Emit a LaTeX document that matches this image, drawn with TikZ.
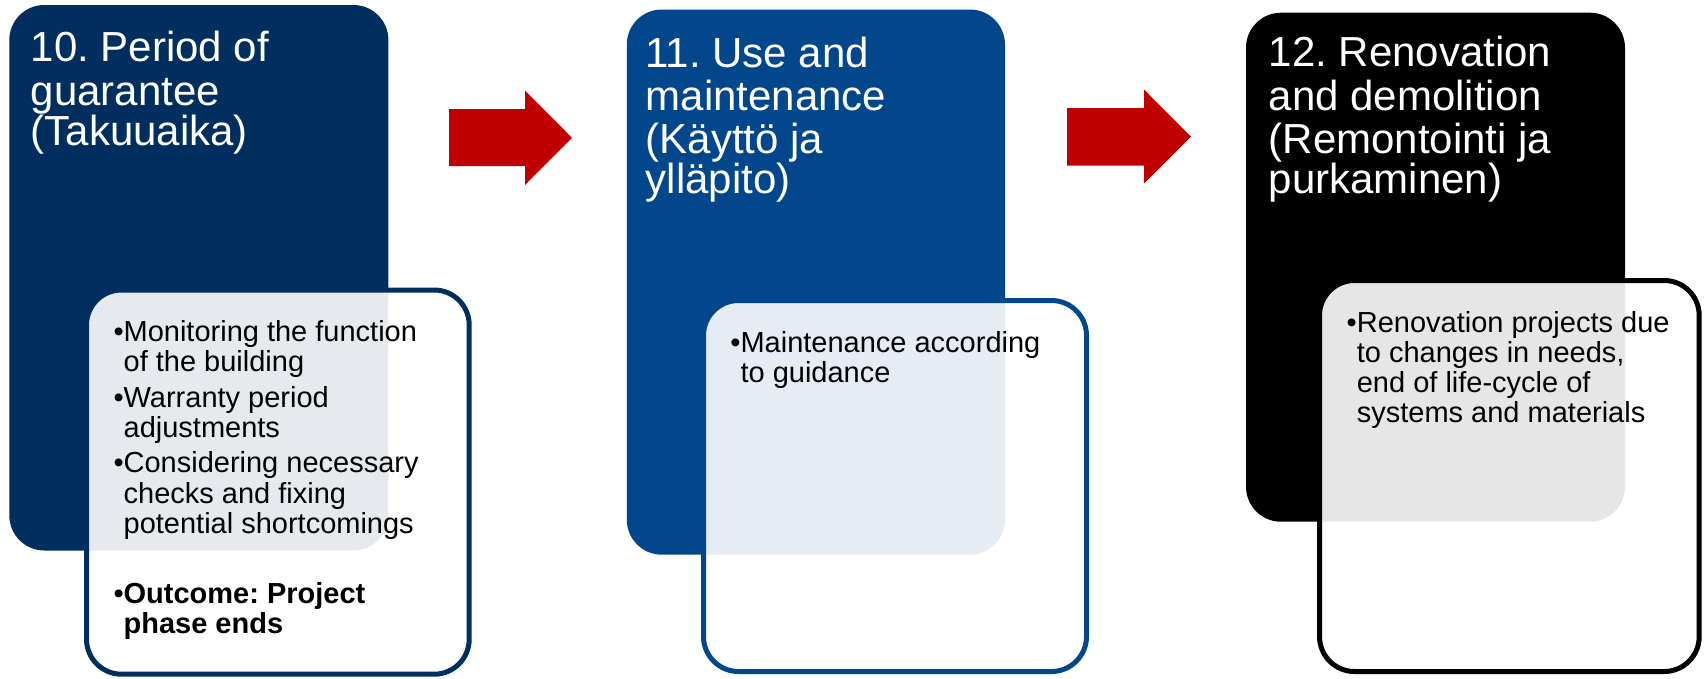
\documentclass[tikz,border=0pt]{standalone}
\usepackage{fontspec}
\setmainfont{Liberation Sans}
\definecolor{navyA}{RGB}{0,47,95}
\definecolor{blueB}{RGB}{2,71,139}
\definecolor{arrowred}{RGB}{192,0,0}
\newcommand\titlefont{\fontsize{42}{43.3}\selectfont\spaceskip=0pt\xspaceskip=0pt\frenchspacing}
\newcommand\bulfont{\fontsize{29}{30.3}\selectfont\spaceskip=0pt\xspaceskip=0pt\frenchspacing\setlength{\parskip}{5pt}}
\newcommand\bitem[1]{\hangindent=10.15pt\hangafter=1\noindent\makebox[10.15pt][l]{•}#1\par}
\tikzset{
  phase/.style={rectangle, rounded corners=35pt, inner sep=0pt, draw=none},
  detail/.style={rectangle, rounded corners=35pt, inner sep=0pt, line width=5pt, fill=white, fill opacity=0.9, draw opacity=1},
  titletext/.style={anchor=base west, inner sep=0pt, text width=360pt, align=left, text=white},
  bullettext/.style={anchor=base west, inner sep=0pt, text width=380pt, align=left, text=black},
  blockarrow/.style={fill=arrowred, draw=none},
}
\begin{document}
\begin{tikzpicture}[x=1pt,y=-1pt]
\useasboundingbox (0,0) rectangle (1705,678);
% phase boxes
\node[phase, fill=navyA, minimum width=379.1pt, minimum height=545.5pt] (b10) at (198.85,277.75) {};
\node[phase, fill=blueB, minimum width=378.2pt, minimum height=545.2pt] (b11) at (815.9,282.1) {};
\node[phase, fill=black, minimum width=379pt, minimum height=509pt] (b12) at (1435.5,267.2) {};
% detail boxes
\node[detail, draw=navyA, minimum width=382.7pt, minimum height=384.2pt] (d10) at (277.85,482.1) {};
\node[detail, draw=blueB, minimum width=383pt, minimum height=371pt] (d11) at (895,486) {};
\node[detail, draw=black, minimum width=379.7pt, minimum height=391pt] (d12) at (1509.35,476) {};
% arrows
\fill[blockarrow] (449,109) -- (525,109) -- (525,90.5) -- (572,137.8) -- (525,185) -- (525,166) -- (449,166) -- cycle;
\fill[blockarrow] (1067,108) -- (1144,108) -- (1144,89.5) -- (1191,136.6) -- (1144,183.7) -- (1144,165.6) -- (1067,165.6) -- cycle;
% titles
\node[titletext] (t10) at (30.5,61.7) {\titlefont 10. Period of\\guarantee\\(Takuuaika)};
\node[titletext] (t11) at (645.5,67) {\titlefont 11. Use and\\maintenance\\(Käyttö ja\\ylläpito)};
\node[titletext] (t12) at (1268.5,66.7) {\titlefont 12. Renovation\\and demolition\\(Remontointi ja\\purkaminen)};
% bullets
\node[bullettext] (l10) at (113.3,341.6) {\bulfont
\bitem{Monitoring the function\newline of the building}%
\bitem{Warranty period\newline adjustments}%
\bitem{Considering necessary\newline checks and fixing\newline potential shortcomings}%
\vspace{34.3pt}%
\bitem{\bfseries Outcome: Project\newline phase ends}};
\node[bullettext] (l11) at (730.2,352) {\bulfont
\bitem{Maintenance according\newline to guidance}};
\node[bullettext] (l12) at (1346.5,332) {\bulfont
\bitem{Renovation projects due\newline to changes in needs,\newline end of life-cycle of\newline systems and materials}};
\end{tikzpicture}
\end{document}
